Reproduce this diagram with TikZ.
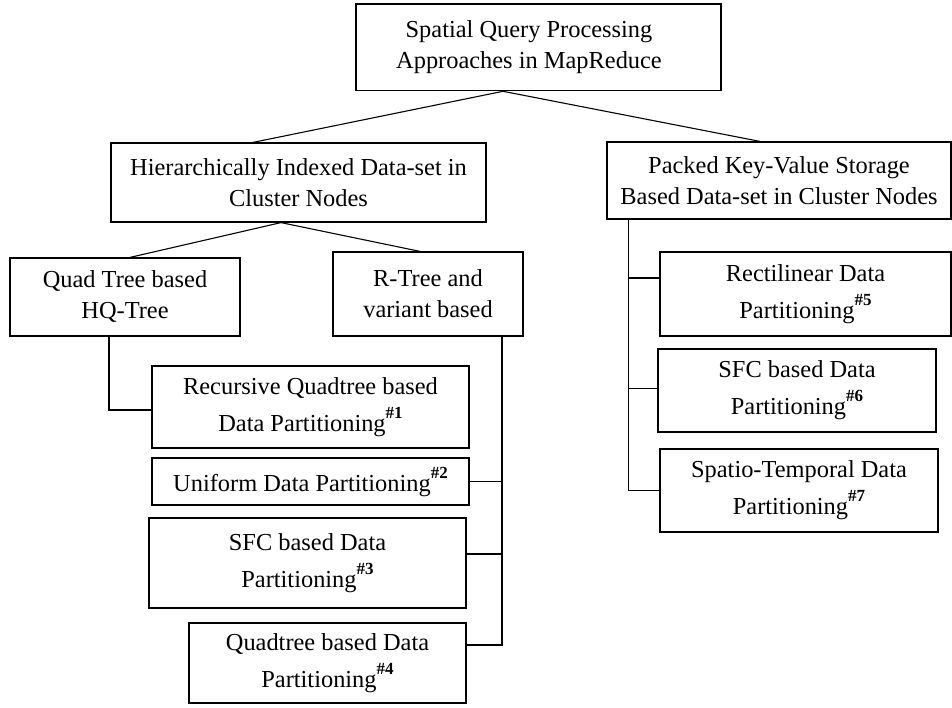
\documentclass[tikz,border=0pt]{standalone}
\usepackage{fontspec}
\setmainfont{Liberation Serif}
\usetikzlibrary{calc}
% bold reference number raised after a box label
\newcommand{\pnum}[1]{\raisebox{13pt}{\fontsize{17}{17}\selectfont\bfseries\##1}}
\begin{document}
\begin{tikzpicture}[x=1pt,y=-1pt,
  box/.style={draw, line width=1.2pt, inner sep=0pt, align=center,
    font=\fontsize{24.4}{31}\selectfont, anchor=center},
  link/.style={line width=1.1pt}]
\useasboundingbox (0,0) rectangle (952,707);

% top level
\node[box, minimum width=365pt, minimum height=86.7pt] (root) at (538.5,47.35)
  {\hspace*{-19pt}Spatial Query Processing\\\hspace*{-19pt}Approaches in MapReduce};

% second level
\node[box, minimum width=375pt, minimum height=79pt] (hier) at (298.5,182.5)
  {Hierarchically Indexed Data-set in\\Cluster Nodes};
\node[box, minimum width=344pt, minimum height=77pt] (packed) at (779,180.5)
  {Packed Key-Value Storage\\Based Data-set in Cluster Nodes};

% hierarchical branch
\node[box, minimum width=230pt, minimum height=78pt] (quad) at (125,297)
  {Quad Tree based\\HQ-Tree};
\node[box, minimum width=190pt, minimum height=84pt] (rtree) at (428,294)
  {R-Tree and\\variant based};
\node[box, minimum width=317pt, minimum height=82pt] (rec) at (310.5,407)
  {Recursive Quadtree based\\[6pt]Data Partitioning\pnum{1}};
\node[box, minimum width=317pt, minimum height=47pt] (uni) at (310.5,481.5)
  {Uniform Data Partitioning\pnum{2}};
\node[box, minimum width=317pt, minimum height=90pt] (sfcA) at (307.5,563)
  {SFC based Data\\[6pt]Partitioning\pnum{3}};
\node[box, minimum width=277pt, minimum height=80pt] (qdt) at (327.5,663)
  {Quadtree based Data\\[6pt]Partitioning\pnum{4}};

% key-value branch
\node[box, minimum width=291pt, minimum height=84pt] (rect) at (805.5,294)
  {Rectilinear Data\\[6pt]Partitioning\pnum{5}};
\node[box, minimum width=278pt, minimum height=83pt] (sfcB) at (797,390.5)
  {SFC based Data\\[6pt]Partitioning\pnum{6}};
\node[box, minimum width=278pt, minimum height=83pt] (spt) at (799,490.5)
  {Spatio-Temporal Data\\[6pt]Partitioning\pnum{7}};

% tree links
\draw[link] ([xshift=-35.5pt]root.south) -- ([xshift=-45.5pt]hier.north);
\draw[link] ([xshift=-35.5pt]root.south) -- ([xshift=-19pt]packed.north);
\draw[link] ([xshift=-17.5pt]hier.south) -- ([xshift=5pt]quad.north);
\draw[link] ([xshift=-17.5pt]hier.south) -- ([xshift=-8pt]rtree.north);

% elbow links
\draw[link] ([xshift=-16pt]quad.south) |- ([yshift=-3pt]rec.west);

\coordinate (rl) at ([xshift=74pt]rtree.south);
\draw[link] (rl) |- ([yshift=18pt]qdt.east);
\draw[link] (uni.east) -- (uni.east -| rl);
\draw[link] ([yshift=9pt]sfcA.east) -- ([yshift=9pt]sfcA.east -| rl);

\coordinate (pl) at ([xshift=22pt]packed.south west);
\draw[link] (pl) |- (spt.west);
\draw[link] ([yshift=16pt]rect.west) -- ([yshift=16pt]rect.west -| pl);
\draw[link] ([yshift=2pt]sfcB.west) -- ([yshift=2pt]sfcB.west -| pl);
\end{tikzpicture}
\end{document}
